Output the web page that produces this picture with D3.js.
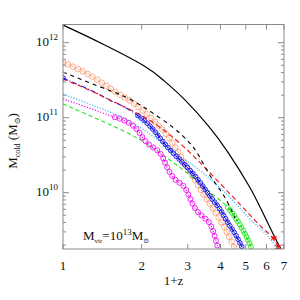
<!DOCTYPE html>
<html>
<head>
<meta charset="utf-8">
<title>Mcold vs 1+z</title>
<script src="https://d3js.org/d3.v7.min.js"></script>
<style>
  body { margin: 0; background: #fff; }
  text { font-family: "Liberation Serif", "DejaVu Serif", serif; fill: #111; }
</style>
</head>
<body>
<div id="chart"></div>
<script>
// values: 1+z and log10(Mcold / Msun)
var blackSolidZ    = [1.00, 1.385, 2.151, 2.412, 2.877, 3.649, 4.238, 5.282, 5.666, 6.467, 6.818];
var blackSolidLogM = [12.236, 12.005, 11.663, 11.503, 11.276, 10.876, 10.569, 10.036, 9.809, 9.396, 9.249];

var blackDashZ    = [1.00, 1.385, 1.773, 2.151, 2.681, 3.060, 3.282, 3.649, 4.091, 4.351, 4.547];
var blackDashLogM = [11.609, 11.409, 11.276, 11.089, 10.863, 10.663, 10.529, 10.209, 9.996, 9.809, 9.663];

var redZ    = [1.00, 1.268, 1.623, 1.970, 2.455, 3.060, 3.649, 4.468, 5.190, 5.768, 6.409, 6.699];
var redLogM = [11.516, 11.369, 11.183, 11.049, 10.836, 10.543, 10.263, 9.943, 9.703, 9.529, 9.396, 9.249];
var redStarZ    = [6.409, 6.640];
var redStarLogM = [9.396, 9.276];

var blueZ    = [1.00, 1.385, 1.512, 1.623, 1.936, 2.189, 2.455, 2.753, 3.254, 3.649, 3.984, 4.238, 4.547, 4.836];
var blueLogM = [11.529, 11.316, 11.223, 11.196, 11.036, 10.876, 10.636, 10.463, 10.209, 9.943, 9.796, 9.609, 9.463, 9.276];

var orangeZ    = [1.00, 1.141, 1.291, 1.447, 1.652, 1.852, 2.114, 2.308, 2.455, 2.611, 2.753, 3.113, 3.491, 3.780, 4.055, 4.313, 4.547];
var orangeLogM = [11.743, 11.649, 11.556, 11.436, 11.303, 11.209, 11.036, 10.903, 10.809, 10.676, 10.543, 10.236, 9.943, 9.769, 9.596, 9.423, 9.249];

var skyZ    = [1.00, 1.447, 1.726, 2.058, 2.455, 2.928, 3.342, 3.881, 4.468, 5.190, 5.922, 6.581];
var skyLogM = [11.316, 11.103, 10.996, 10.836, 10.636, 10.436, 10.303, 10.103, 9.903, 9.636, 9.476, 9.263];

var magentaZ    = [1.00, 1.268, 1.553, 1.726, 1.919, 2.023, 2.151, 2.308, 2.412, 2.498, 2.681, 2.877, 3.006, 3.142, 3.342, 3.585, 3.714, 3.813, 3.915];
var magentaLogM = [11.249, 11.129, 11.009, 10.969, 10.863, 10.716, 10.623, 10.569, 10.476, 10.329, 10.156, 10.116, 9.996, 9.823, 9.703, 9.636, 9.543, 9.409, 9.263];

var greenZ    = [1.00, 1.385, 1.970, 2.566, 3.060, 3.649, 4.238, 4.628, 4.966, 5.282];
var greenLogM = [11.183, 10.969, 10.729, 10.436, 10.236, 9.996, 9.836, 9.636, 9.463, 9.249];

var xTicks = [1, 2, 3, 4, 5, 6, 7];
var yMajor = [1e10, 1e11, 1e12];

var W = 300, H = 300;
var plotLeft = 63, plotRight = 284, plotTop = 24.5, plotBottom = 249;

var svg = d3.select("#chart").append("svg")
  .attr("width", W)
  .attr("height", H);

var x = d3.scaleLog().domain([1, 7]).range([plotLeft, plotRight]);
var y = d3.scaleLog().domain([1.775e9, 1.75e12]).range([plotBottom, plotTop]);

function pairs(zs, lms) {
  return zs.map(function(z, i) { return [z, Math.pow(10, lms[i])]; });
}

svg.append("clipPath").attr("id", "plotClip")
  .append("rect")
  .attr("x", plotLeft).attr("y", plotTop)
  .attr("width", plotRight - plotLeft).attr("height", plotBottom - plotTop);

var plot = svg.append("g").attr("clip-path", "url(#plotClip)");

var line = d3.line()
  .x(function(d) { return x(d[0]); })
  .y(function(d) { return y(d[1]); })
  .curve(d3.curveBasis);

// series: data, colour, dash, marker kind, marker start (1+z), marker step along path
var series = [
  { d: pairs(orangeZ, orangeLogM), color: "#f9a37e", dash: null, w: 0.7, mk: "circle", from: 1.0, step: 5.5, r: 2.8 },
  { d: pairs(greenZ, greenLogM), color: "#19e619", dash: "4,3", w: 1.1, mk: "circle", from: 4.2, step: 3.5, r: 2.4 },
  { d: pairs(skyZ, skyLogM), color: "#4fb8f5", dash: "1.2,1.6", w: 1.3, mk: null },
  { d: pairs(magentaZ, magentaLogM), color: "#f20cf2", dash: "1.2,1.6", w: 1.2, mk: "circle", from: 1.55, step: 5, r: 2.5 },
  { d: pairs(blueZ, blueLogM), color: "#1414e6", dash: "5,2,1,2", w: 1.1, mk: "cross", from: 1.9, step: 4, r: 2.3 },
  { d: pairs(redZ, redLogM), color: "#ee1111", dash: "5,3", w: 1.1, mk: null },
  { d: pairs(blackDashZ, blackDashLogM), color: "#000", dash: "4,4", w: 1.1, mk: null },
  { d: pairs(blackSolidZ, blackSolidLogM), color: "#000", dash: null, w: 1.2, mk: null }
];

series.forEach(function(s) {
  var p = plot.append("path")
    .attr("d", line(s.d))
    .attr("fill", "none")
    .attr("stroke", s.color)
    .attr("stroke-width", s.w)
    .attr("stroke-dasharray", s.dash);

  if (!s.mk) return;
  // markers placed along the drawn curve
  var node = p.node(), len = node.getTotalLength(), pts = [];
  for (var l = 0; l <= len; l += s.step) {
    var q = node.getPointAtLength(l);
    if (q.x >= x(s.from) - 0.5) pts.push(q);
  }
  var g = plot.append("g");
  g.selectAll("circle").data(pts).enter().append("circle")
    .attr("cx", function(q) { return q.x; })
    .attr("cy", function(q) { return q.y; })
    .attr("r", s.r)
    .attr("fill", "none")
    .attr("stroke", s.color)
    .attr("stroke-width", 0.9);
  if (s.mk === "cross") {
    g.selectAll("path").data(pts).enter().append("path")
      .attr("d", function(q) {
        var a = s.r * 0.6;
        return "M" + (q.x - a) + "," + (q.y - a) + "L" + (q.x + a) + "," + (q.y + a) +
               "M" + (q.x - a) + "," + (q.y + a) + "L" + (q.x + a) + "," + (q.y - a);
      })
      .attr("stroke", s.color)
      .attr("stroke-width", 0.6);
  }
});

// blue marker at z=0
plot.append("circle")
  .attr("cx", x(blueZ[0])).attr("cy", y(Math.pow(10, blueLogM[0])))
  .attr("r", 2.3).attr("fill", "none").attr("stroke", "#1414e6");

// red stars at the high-z end
plot.selectAll(".star").data(pairs(redStarZ, redStarLogM)).enter().append("path")
  .attr("class", "star")
  .attr("transform", function(d) { return "translate(" + x(d[0]) + "," + y(d[1]) + ")"; })
  .attr("d", d3.symbol().type(d3.symbolAsterisk).size(28))
  .attr("fill", "none")
  .attr("stroke", "#ee1111")
  .attr("stroke-width", 1.2);

// frame
var axisColor = "#8a8a8a";
svg.append("rect")
  .attr("x", plotLeft).attr("y", plotTop)
  .attr("width", plotRight - plotLeft).attr("height", plotBottom - plotTop)
  .attr("fill", "none").attr("stroke", axisColor).attr("stroke-width", 1);

// x ticks, bottom and top, inside
var xt = svg.append("g");
xTicks.forEach(function(t) {
  xt.append("line").attr("x1", x(t)).attr("x2", x(t)).attr("y1", plotBottom).attr("y2", plotBottom - 5)
    .attr("stroke", axisColor);
  xt.append("line").attr("x1", x(t)).attr("x2", x(t)).attr("y1", plotTop).attr("y2", plotTop + 5)
    .attr("stroke", axisColor);
  xt.append("text").attr("x", x(t)).attr("y", 270)
    .attr("text-anchor", "middle").attr("font-size", 13).text(t);
});

// y ticks, left and right, inside
var yt = svg.append("g");
y.ticks().forEach(function(t) {
  var major = yMajor.indexOf(t) >= 0;
  var len = major ? 6 : 3;
  yt.append("line").attr("x1", plotLeft).attr("x2", plotLeft + len).attr("y1", y(t)).attr("y2", y(t))
    .attr("stroke", axisColor);
  yt.append("line").attr("x1", plotRight).attr("x2", plotRight - len).attr("y1", y(t)).attr("y2", y(t))
    .attr("stroke", axisColor);
});
yMajor.forEach(function(t) {
  var lab = yt.append("text").attr("x", 58).attr("y", y(t) + 3.5)
    .attr("text-anchor", "end").attr("font-size", 13);
  lab.append("tspan").text("10");
  lab.append("tspan").attr("dy", -6).attr("font-size", 9).text(Math.round(Math.log10(t)));
});

// axis titles
svg.append("text").attr("x", (plotLeft + plotRight) / 2).attr("y", 285)
  .attr("text-anchor", "middle").attr("font-size", 13).text("1+z");

var yl = svg.append("text")
  .attr("transform", "translate(17,141) rotate(-90)")
  .attr("text-anchor", "middle").attr("font-size", 13);
yl.append("tspan").text("M");
yl.append("tspan").attr("dy", 3).attr("font-size", 8).text("cold");
yl.append("tspan").attr("dy", -3).text(" (M");
yl.append("tspan").attr("dy", 3).attr("font-size", 8).text("\u2299");
yl.append("tspan").attr("dy", -3).text(")");

// halo mass annotation
var ann = svg.append("text").attr("x", 83).attr("y", 240).attr("font-size", 13);
ann.append("tspan").text("M");
ann.append("tspan").attr("dy", 2.5).attr("font-size", 7).text("vir");
ann.append("tspan").attr("dy", -2.5).text("=10");
ann.append("tspan").attr("dy", -5).attr("font-size", 9).text("13");
ann.append("tspan").attr("dy", 5).text("M");
ann.append("tspan").attr("dy", 2.5).attr("font-size", 7).text("\u2299");
</script>
</body>
</html>
